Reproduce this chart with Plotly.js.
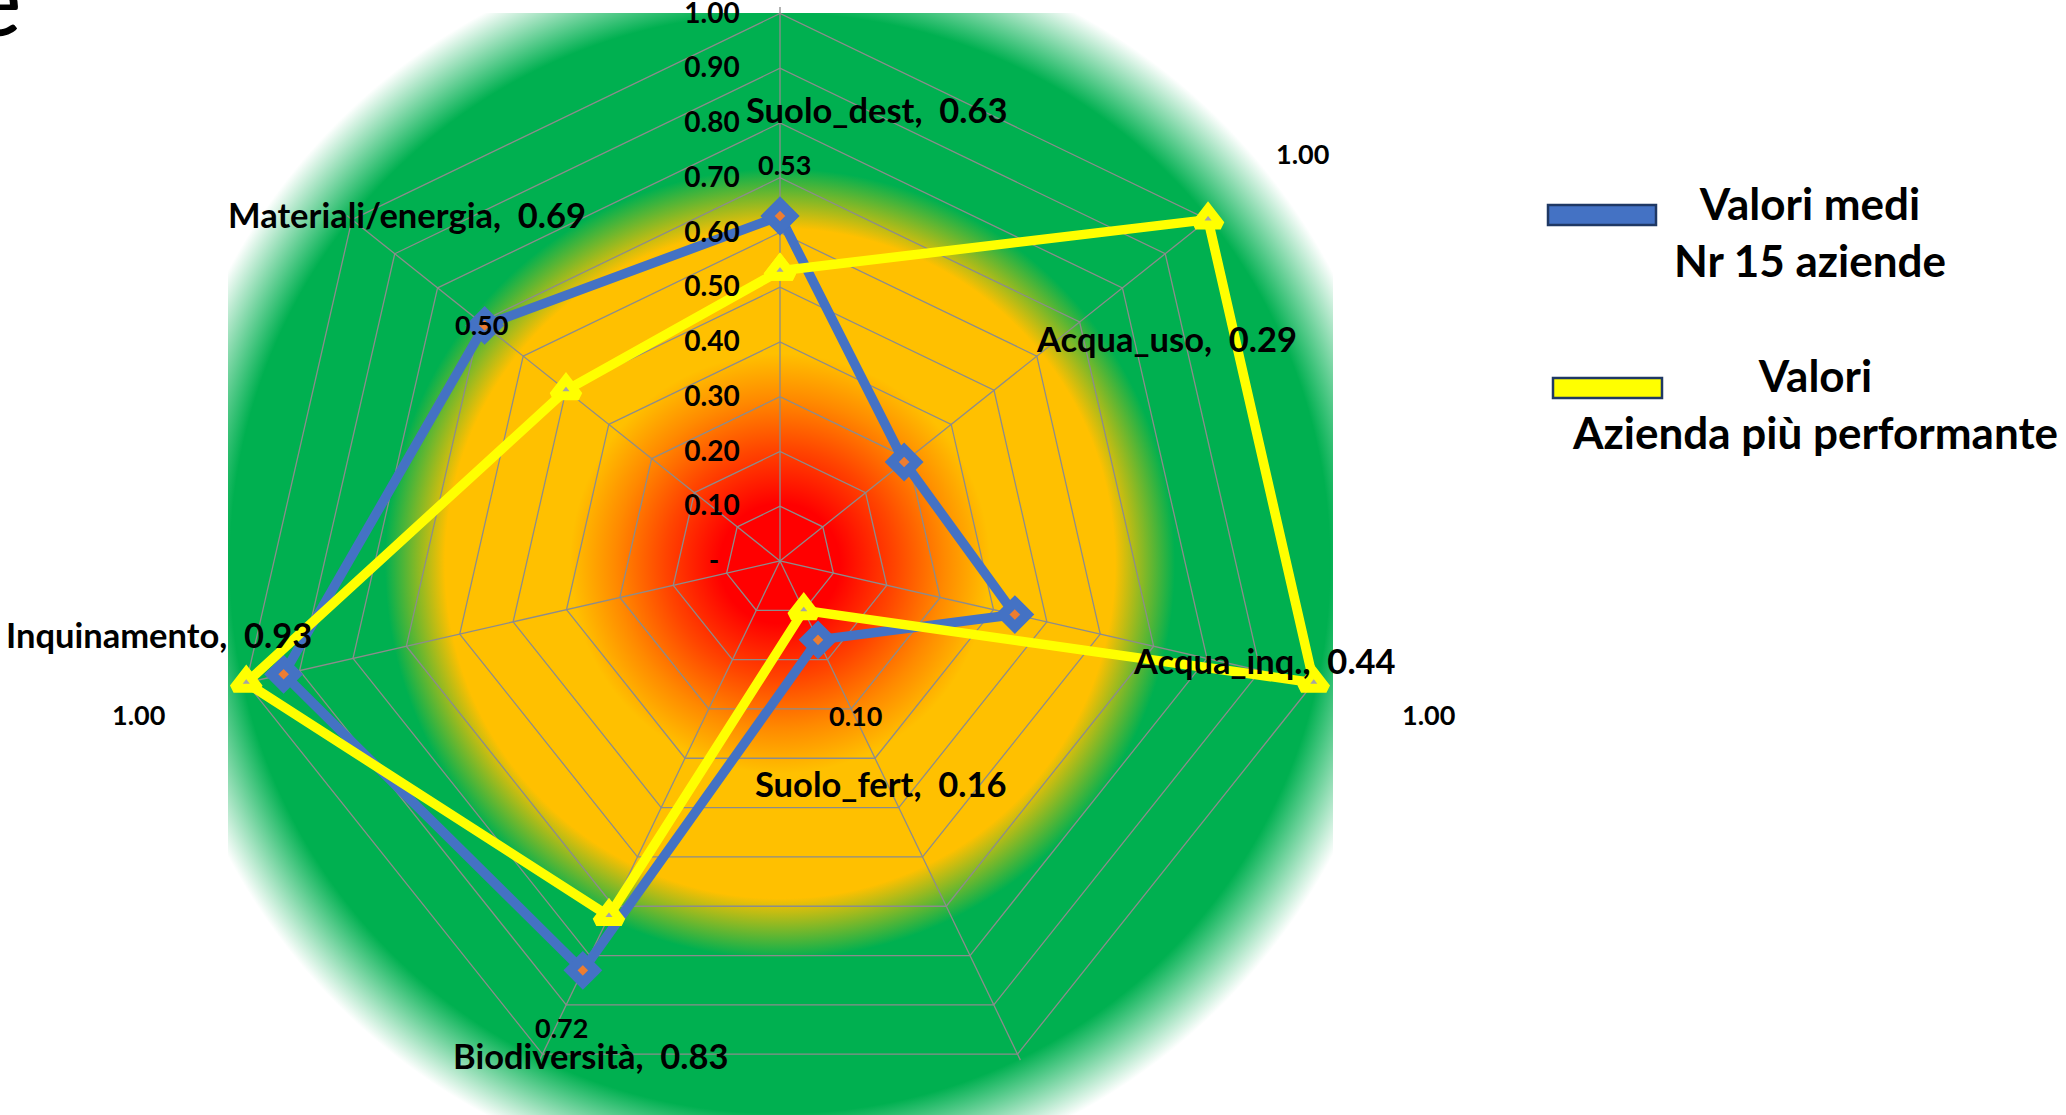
<!DOCTYPE html>
<html>
<head>
<meta charset="utf-8">
<script src="https://cdn.plot.ly/plotly-3.0.1.min.js"></script>
<style>
html,body{margin:0;padding:0;background:#ffffff;}
#chart{width:2066px;height:1115px;}
</style>
</head>
<body>
<div id="chart"></div>
<script>
// ---------------- DATA ----------------
const categories = ['Suolo_dest', 'Acqua_uso', 'Acqua_inq.', 'Suolo_fert', 'Biodiversità', 'Inquinamento', 'Materiali/energia'];
const valoriMedi = [0.63, 0.29, 0.44, 0.16, 0.83, 0.93, 0.69];
const aziendaTop = [0.53, 1.00, 1.00, 0.10, 0.72, 1.00, 0.50];
const radialTickVals = [0, 0.1, 0.2, 0.3, 0.4, 0.5, 0.6, 0.7, 0.8, 0.9, 1.0];
const radialTickText = ['-\u00a0\u00a0\u00a0', '0.10', '0.20', '0.30', '0.40', '0.50', '0.60', '0.70', '0.80', '0.90', '1.00'];
const legendNames = ['Valori medi<br>Nr 15 aziende', 'Valori<br>Azienda più performante'];

// ---------------- LAYOUT HELPERS (pixel placement of labels) ----------------
const W = 2066, H = 1115;
const px = x => x / W;
const py = y => 1 - y / H;
// label centres in page pixels (positions only, not data)
const catLabelPos = [[876, 110], [1166, 338], [1264, 660], [880, 783], [591, 1055], [159, 634], [407, 214]];
const topLabelPos = [[784, 164], [1302, 153], [1428, 714], [855, 715], [561, 1027], [138, 714], [481, 325]];

const FONT = 'Lato, "Open Sans", sans-serif';
const fmt = v => v.toFixed(2);

// ---------------- BACKGROUND GRADIENT ----------------
const cx = 780, cy = 563.5;
const svg = `<svg xmlns="http://www.w3.org/2000/svg" width="${W}" height="${H}" viewBox="0 0 ${W} ${H}">
<defs>
<radialGradient id="g" gradientUnits="userSpaceOnUse" cx="${cx}" cy="${cy}" r="625">
<stop offset="0" stop-color="#FF0000"/>
<stop offset="0.096" stop-color="#FF0000"/>
<stop offset="0.184" stop-color="#FF4500"/>
<stop offset="0.264" stop-color="#FF8A00"/>
<stop offset="0.336" stop-color="#FFC000"/>
<stop offset="0.536" stop-color="#FFC000"/>
<stop offset="0.632" stop-color="#00B050"/>
<stop offset="0.88" stop-color="#00B050"/>
<stop offset="1" stop-color="#FFFFFF"/>
</radialGradient>
</defs>
<rect x="228" y="13" width="1105" height="1102" fill="url(#g)"/>
</svg>`;

// ---------------- TRACES ----------------
const close = a => a.concat([a[0]]);
const traceMedi = {
  type: 'scatterpolar',
  r: close(valoriMedi),
  theta: close(categories),
  mode: 'lines+markers',
  name: legendNames[0],
  line: {color: '#4472C4', width: 9.5},
  marker: {symbol: 'diamond', size: 19, color: '#ED7D31', line: {color: '#4472C4', width: 10}},
  cliponaxis: false,
  showlegend: false,
  hoverinfo: 'skip'
};
const traceTop = {
  type: 'scatterpolar',
  r: close(aziendaTop),
  theta: close(categories),
  mode: 'lines+markers',
  name: legendNames[1],
  line: {color: '#FFFF00', width: 9.5},
  marker: {symbol: 'triangle-up', size: 22, color: '#A5A5A5', line: {color: '#FFFF00', width: 9}},
  cliponaxis: false,
  showlegend: false,
  hoverinfo: 'skip'
};

// ---------------- ANNOTATIONS ----------------
const annotations = [];
categories.forEach((c, i) => {
  annotations.push({
    xref: 'paper', yref: 'paper', x: px(catLabelPos[i][0]), y: py(catLabelPos[i][1]),
    xanchor: 'center', yanchor: 'middle', showarrow: false,
    text: c + ',  ' + fmt(valoriMedi[i]),
    font: {family: FONT, size: 34.5, color: '#000000', weight: 'bold'}
  });
  annotations.push({
    xref: 'paper', yref: 'paper', x: px(topLabelPos[i][0]), y: py(topLabelPos[i][1]),
    xanchor: 'center', yanchor: 'middle', showarrow: false,
    text: fmt(aziendaTop[i]),
    font: {family: FONT, size: 27, color: '#000000', weight: 'bold'}
  });
});
// legend texts
annotations.push({xref:'paper', yref:'paper', x: px(1810), y: py(231), xanchor:'center', yanchor:'middle', showarrow:false, align:'center',
  text: legendNames[0], font:{family: FONT, size: 44, color:'#000000', weight:'bold'}});
annotations.push({xref:'paper', yref:'paper', x: px(1815), y: py(403), xanchor:'center', yanchor:'middle', showarrow:false, align:'center',
  text: legendNames[1], font:{family: FONT, size: 44, color:'#000000', weight:'bold'}});
// cropped title fragment at top-left corner
annotations.push({xref:'paper', yref:'paper', x: px(24), y: py(-3), xanchor:'right', yanchor:'middle', showarrow:false,
  text: 'e', font:{family: FONT, size: 100, color:'#000000'}});

const shapes = [
  {type:'rect', xref:'paper', yref:'paper', x0: px(1548), x1: px(1656), y0: py(225), y1: py(205),
   fillcolor:'#4472C4', line:{color:'#1F3864', width:2.5}},
  {type:'rect', xref:'paper', yref:'paper', x0: px(1553), x1: px(1662), y0: py(398), y1: py(378),
   fillcolor:'#FFFF00', line:{color:'#1F3864', width:2.5}}
];

// r = 1 sits 550 px from the centre; range padded slightly so lines on the rim are not clipped
const RMAX = 1.012;
const R = 550 * RMAX;
const layout = {
  width: W, height: H,
  margin: {l: 0, r: 0, t: 0, b: 0, pad: 0},
  paper_bgcolor: '#ffffff',
  showlegend: false,
  font: {family: FONT, color: '#000000'},
  images: [{
    source: 'data:image/svg+xml;charset=utf-8,' + encodeURIComponent(svg),
    xref: 'paper', yref: 'paper', x: 0, y: 1, sizex: 1, sizey: 1,
    xanchor: 'left', yanchor: 'top', sizing: 'stretch', layer: 'below'
  }],
  polar: {
    domain: {x: [px(cx - R), px(cx + R)], y: [py(cy + R), py(cy - R)]},
    bgcolor: 'rgba(0,0,0,0)',
    gridshape: 'linear',
    radialaxis: {
      range: [0, RMAX], tickmode: 'array', tickvals: radialTickVals, ticktext: radialTickText,
      angle: 90, side: 'counterclockwise', tickangle: 90,
      showline: false, gridcolor: '#8C8C8C', gridwidth: 1.3,
      ticks: 'outside', ticklen: 30, tickcolor: 'rgba(0,0,0,0)',
      tickfont: {family: FONT, size: 28, color: '#000000', weight: 'bold'},
      layer: 'above traces'
    },
    angularaxis: {
      type: 'category', categoryorder: 'array', categoryarray: categories,
      rotation: 90, direction: 'clockwise',
      showticklabels: false, ticks: '',
      showline: false,
      gridcolor: '#8C8C8C', gridwidth: 1.3, layer: 'below traces'
    }
  },
  annotations: annotations,
  shapes: shapes
};

Plotly.newPlot('chart', [traceMedi, traceTop], layout, {displayModeBar: false, staticPlot: true});
</script>
</body>
</html>
